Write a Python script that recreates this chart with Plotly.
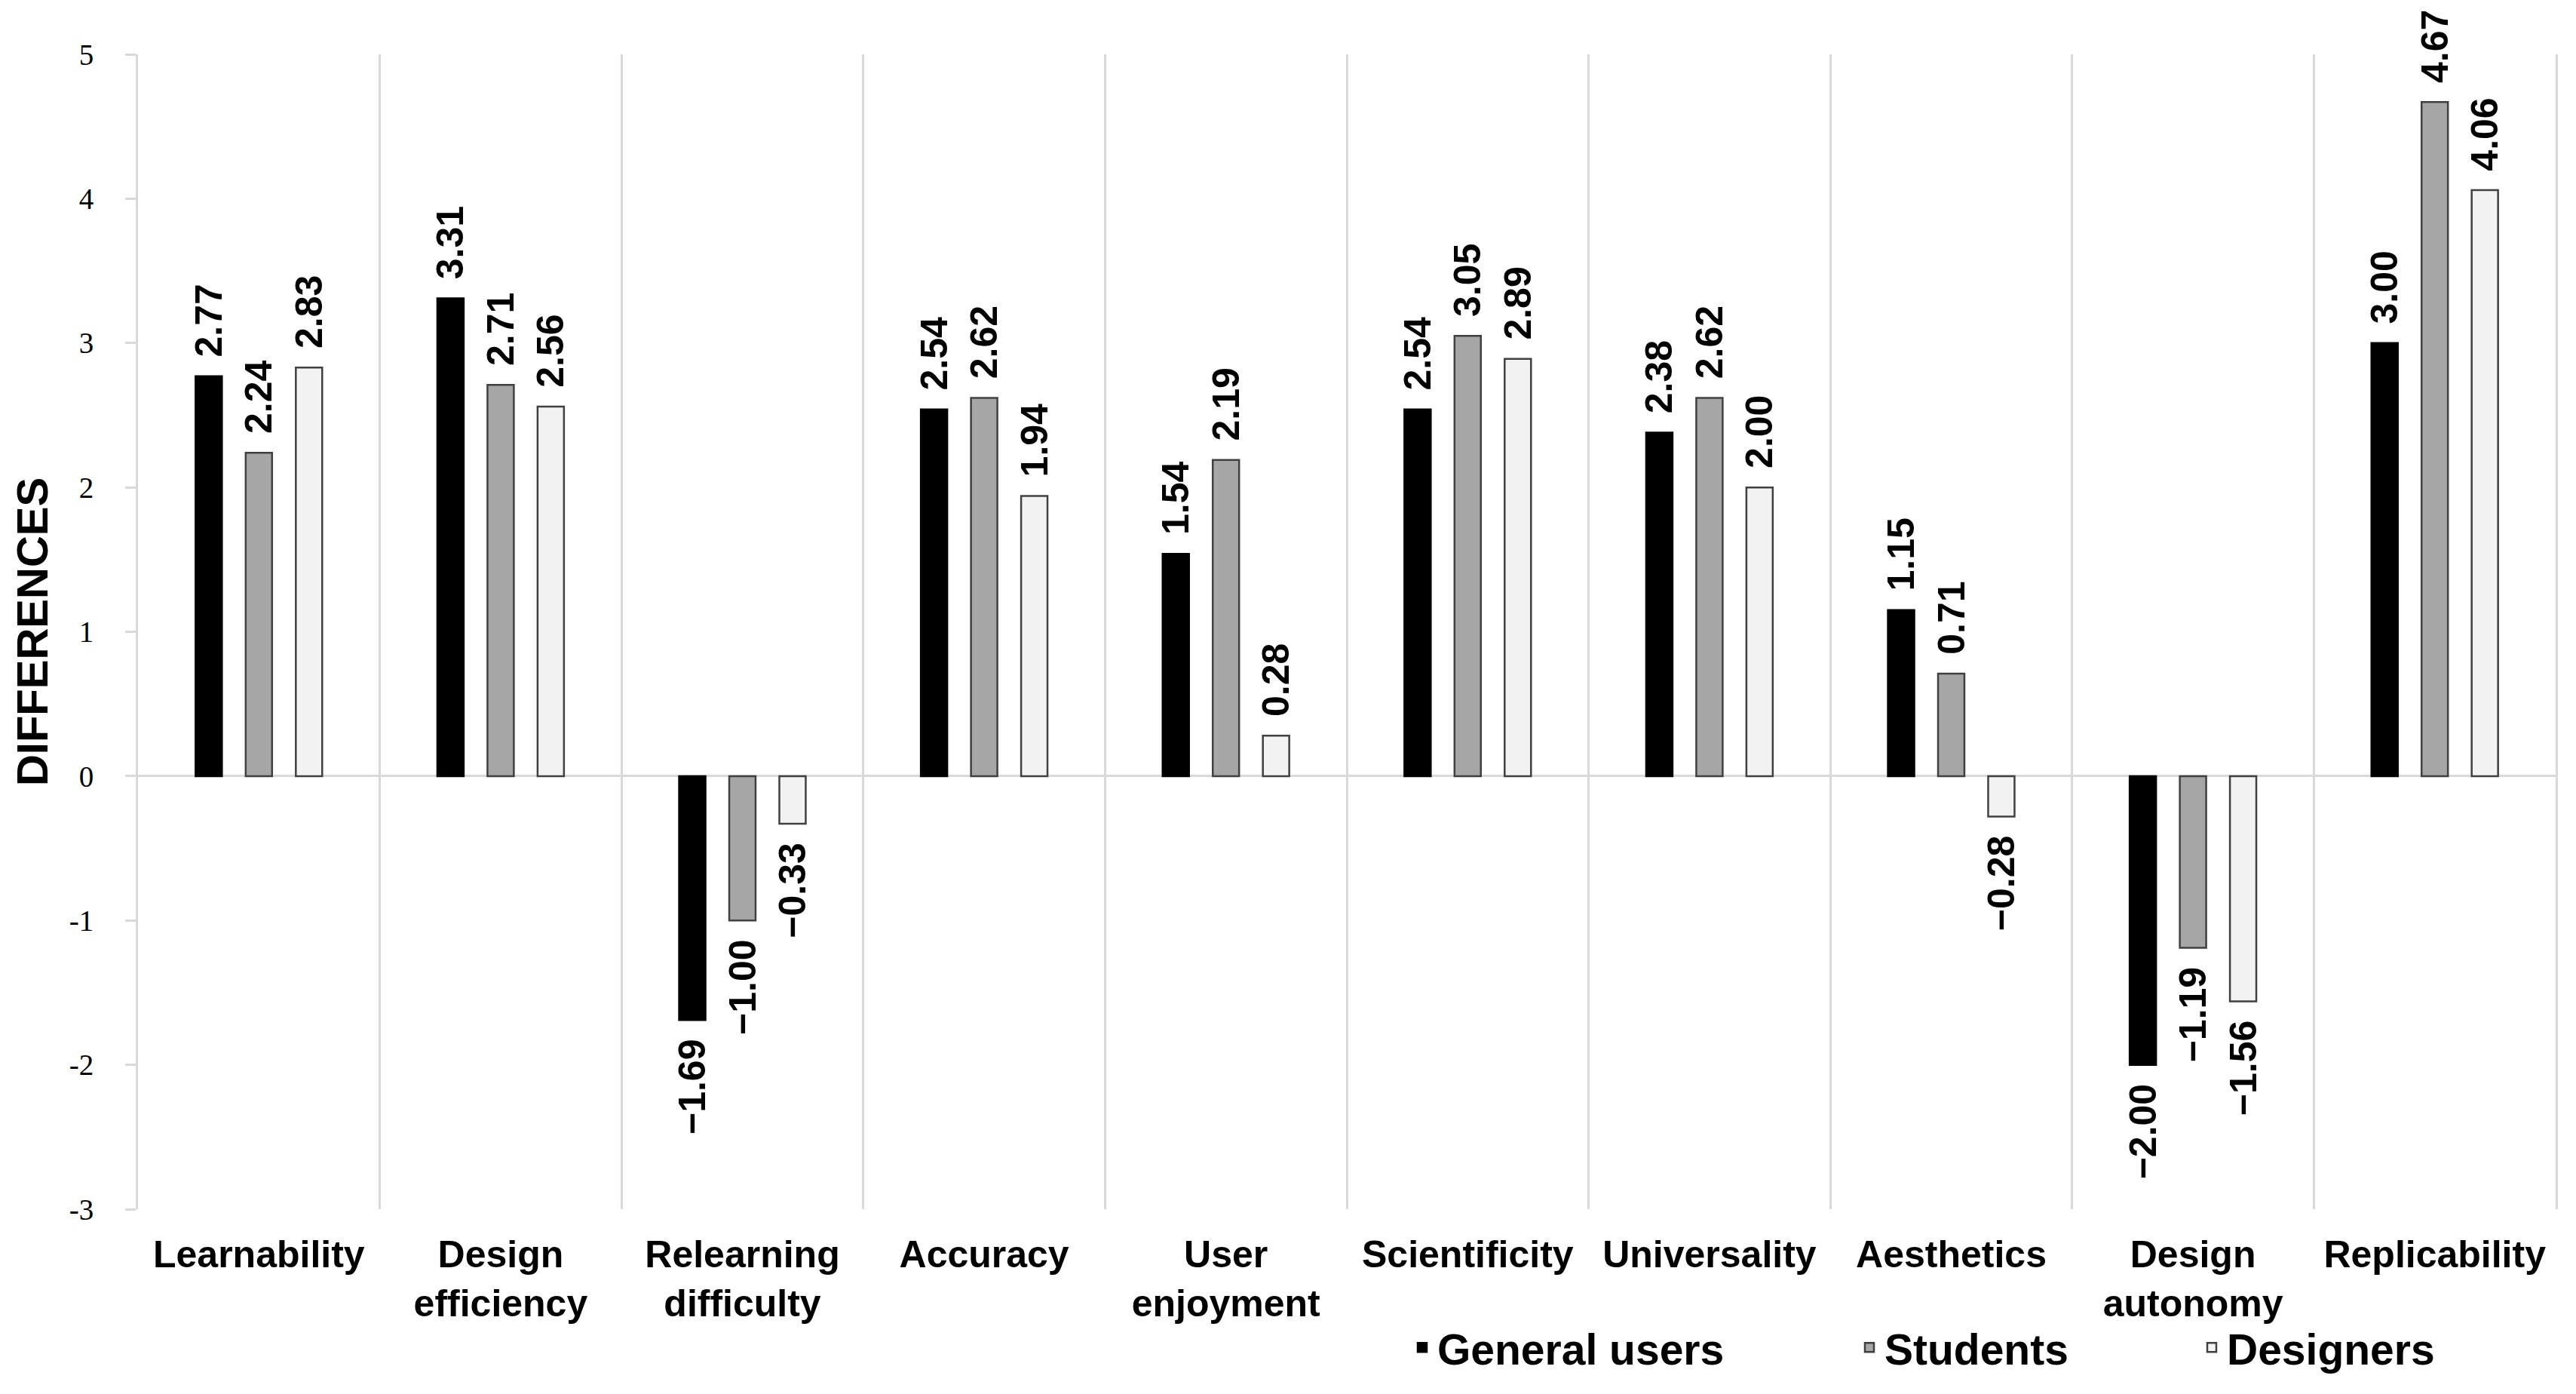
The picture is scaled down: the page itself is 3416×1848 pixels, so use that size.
import plotly.graph_objects as go

categories = ["Learnability", "Design<br>efficiency", "Relearning<br>difficulty", "Accuracy",
              "User<br>enjoyment", "Scientificity", "Universality", "Aesthetics",
              "Design<br>autonomy", "Replicability"]
general_users = [2.77, 3.31, -1.69, 2.54, 1.54, 2.54, 2.38, 1.15, -2.00, 3.00]
students = [2.24, 2.71, -1.00, 2.62, 2.19, 3.05, 2.62, 0.71, -1.19, 4.67]
designers = [2.83, 2.56, -0.33, 1.94, 0.28, 2.89, 2.00, -0.28, -1.56, 4.06]
y_tickvals = [-3, -2, -1, 0, 1, 2, 3, 4, 5]
y_ticktext = ["-3", "-2", "-1", "0", "1", "2", "3", "4", "5"]

# page offset of the plot div (browser body margin)
OFF = 8
W, H = 3416 - OFF, 1848 - OFF
ML, MR, MT, MB = 183 - OFF, 27, 72 - OFF, 245
PW = W - ML - MR

PAD = "\u00a0\u2006"


def labels(vals):
    out = []
    for v in vals:
        if v >= 0:
            out.append(PAD + f"{v:.2f}")
        else:
            out.append(f"\u2212{abs(v):.2f}" + PAD)
    return out


series = [
    ("General users", general_users, "#000000", "#000000", "legend"),
    ("Students", students, "#A6A6A6", "#404040", "legend2"),
    ("Designers", designers, "#F2F2F2", "#404040", "legend3"),
]

fig = go.Figure()
for name, vals, fill, edge, lg in series:
    fig.add_trace(go.Bar(
        name=name, x=categories, y=vals,
        marker=dict(color=fill, line=dict(color=edge, width=2.5)),
        text=labels(vals), textposition="outside", textangle=-90,
        constraintext="none", cliponaxis=False,
        textfont=dict(family="Liberation Sans, Arial, sans-serif", size=50, color="#000000", weight="bold"),
        legend=lg,
    ))

legend_font = dict(family="Liberation Sans, Arial, sans-serif", size=57, color="#000000", weight="bold")
text_starts = [1906, 2499, 2953]


def legend_cfg(px):
    return dict(x=(px - OFF - 40 - ML) / PW, xanchor="left", y=-0.120, yanchor="middle",
                orientation="h", font=legend_font, bgcolor="rgba(0,0,0,0)",
                borderwidth=0, itemclick=False, itemdoubleclick=False)


fig.update_layout(
    width=W, height=H,
    margin=dict(l=ML, r=MR, t=MT, b=MB, pad=0),
    paper_bgcolor="white", plot_bgcolor="white",
    barmode="group", bargap=0.378, bargroupgap=0.474,
    showlegend=True,
    legend=legend_cfg(text_starts[0]),
    legend2=legend_cfg(text_starts[1]),
    legend3=legend_cfg(text_starts[2]),
    xaxis=dict(
        type="category", tickson="boundaries", ticks="", showgrid=True,
        gridcolor="#D9D9D9", gridwidth=3, showline=False, zeroline=False,
        tickfont=dict(family="Liberation Sans, Arial, sans-serif", size=50, color="#000000", weight="bold"),
        ticklabelstandoff=26,
    ),
    yaxis=dict(
        range=[-3, 5], tickvals=y_tickvals, ticktext=y_ticktext,
        showgrid=False, showline=True, linecolor="#D9D9D9", linewidth=3, mirror=True,
        ticks="outside", ticklen=14, tickwidth=3, tickcolor="#D9D9D9",
        zeroline=True, zerolinecolor="#D9D9D9", zerolinewidth=3,
        tickfont=dict(family="Liberation Serif, Times New Roman, serif", size=39, color="#000000"),
        ticklabelstandoff=34,
        title=dict(text="DIFFERENCES", standoff=10,
                   font=dict(family="Liberation Sans, Arial, sans-serif", size=58, color="#000000", weight="bold")),
    ),
)

fig.write_html("out.html")
